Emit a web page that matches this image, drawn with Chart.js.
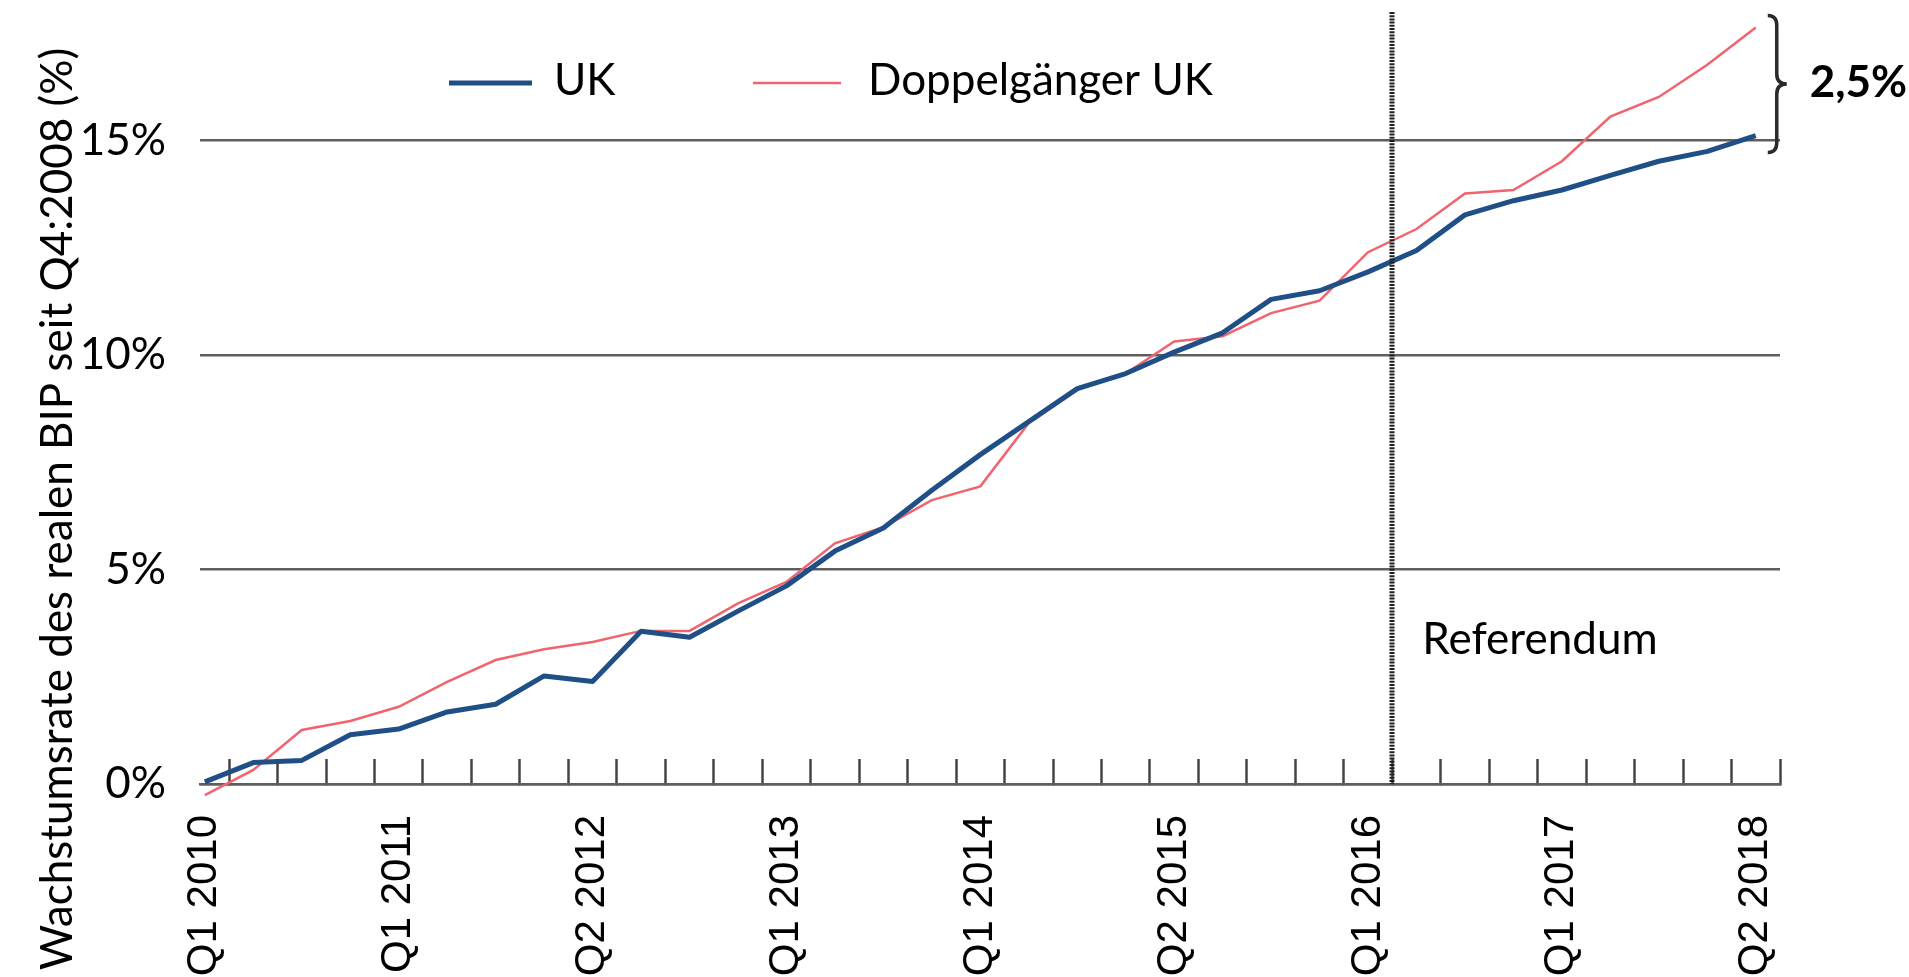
<!DOCTYPE html>
<html><head><meta charset="utf-8">
<script src="https://cdn.jsdelivr.net/npm/chart.js@4.4.1/dist/chart.umd.min.js"></script>
<style>html,body{margin:0;padding:0;background:#fff;overflow:hidden}#wrap{width:1909px;height:977px;position:relative}</style>
</head><body><div id="wrap"><canvas id="c" width="1909" height="977"></canvas></div>
<script>
// ---- data ----
const quarters = ["Q1 2010","Q2 2010","Q3 2010","Q4 2010","Q1 2011","Q2 2011","Q3 2011","Q4 2011",
  "Q1 2012","Q2 2012","Q3 2012","Q4 2012","Q1 2013","Q2 2013","Q3 2013","Q4 2013",
  "Q1 2014","Q2 2014","Q3 2014","Q4 2014","Q1 2015","Q2 2015","Q3 2015","Q4 2015",
  "Q1 2016","Q2 2016","Q3 2016","Q4 2016","Q1 2017","Q2 2017","Q3 2017","Q4 2017","Q1 2018"];
const tickLabels = ["Q1 2010","Q1 2011","Q2 2012","Q1 2013","Q1 2014","Q2 2015","Q1 2016","Q1 2017","Q2 2018"];
const ukValues = [0.05,0.50,0.55,1.15,1.28,1.68,1.86,2.52,2.39,3.56,3.42,4.03,4.62,5.43,5.97,6.85,
  7.68,8.45,9.22,9.57,10.07,10.52,11.30,11.50,11.94,12.44,13.27,13.60,13.85,14.19,14.52,14.75,15.12];
const doppelValues = [-0.26,0.33,1.26,1.47,1.80,2.38,2.89,3.14,3.31,3.57,3.57,4.21,4.71,5.61,5.99,6.62,
  6.94,8.42,9.19,9.57,10.32,10.44,10.98,11.27,12.40,12.94,13.77,13.85,14.52,15.56,16.02,16.77,17.64];
const yTickValues = [0,5,10,15];
const seriesNames = ["UK","Doppelgänger UK"];
const yTitle = "Wachstumsrate des realen BIP seit Q4:2008 (%)";
const referendumText = "Referendum";
const gapText = "2,5%";
const referendumPos = 24.5;   // boundary after Q1 2016
const labelStep = 4;

const BLUE = '#1f4f86', RED = '#f0646e', GRID = '#5e5e5e', TICK = '#444';
const CAL = 'Lato';

const annot = {
  id: 'annot',
  afterDatasetsDraw(chart) {
    const {ctx, chartArea, scales:{x, y}} = chart;
    const rx = Math.round(x.getPixelForValue(referendumPos));
    ctx.save();
    ctx.strokeStyle = '#1e1e1e';
    ctx.lineWidth = 5;
    ctx.setLineDash([2, 1.2]);
    ctx.beginPath();
    ctx.moveTo(rx, chartArea.top);
    ctx.lineTo(rx, chartArea.bottom);
    ctx.stroke();
    ctx.restore();
  },
  afterDraw(chart) {
    const {ctx, chartArea, scales:{x, y}} = chart;
    const ds = chart.data.datasets;
    ctx.save();
    ctx.fillStyle = '#000';
    // y-axis title
    ctx.save();
    ctx.font = `44px ${CAL}`;
    ctx.translate(72, 509);
    ctx.rotate(-Math.PI/2);
    ctx.textAlign = 'center';
    ctx.textBaseline = 'alphabetic';
    ctx.fillText(yTitle, 0, 0);
    ctx.restore();
    // legend
    const leg = [{x0:449, x1:532, tx:554}, {x0:753, x1:841, tx:868}];
    ctx.font = `44px ${CAL}`;
    ctx.textAlign = 'left';
    ctx.textBaseline = 'alphabetic';
    ds.forEach((d, i) => {
      ctx.strokeStyle = d.borderColor;
      ctx.lineWidth = d.borderWidth;
      ctx.beginPath();
      ctx.moveTo(leg[i].x0, 83);
      ctx.lineTo(leg[i].x1, 83);
      ctx.stroke();
      ctx.fillText(d.label, leg[i].tx, 95);
    });
    // Referendum label
    const rx = x.getPixelForValue(referendumPos);
    ctx.fillText(referendumText, rx + 30, y.getPixelForValue(3.03));
    // brace
    const last = quarters.length - 1;
    const xe = x.getPixelForValue(last);
    const top = y.getPixelForValue(doppelValues[last]) - 12;
    const bot = y.getPixelForValue(ukValues[last]) + 17;
    const mid = (top + bot) / 2;
    const xL = xe + 12, xS = xe + 21, xT = xe + 31;
    ctx.strokeStyle = '#2a2a2a';
    ctx.lineWidth = 3.5;
    ctx.beginPath();
    ctx.moveTo(xL, top);
    ctx.quadraticCurveTo(xS, top, xS, top + 10);
    ctx.lineTo(xS, mid - 10);
    ctx.quadraticCurveTo(xS, mid, xT, mid);
    ctx.quadraticCurveTo(xS, mid, xS, mid + 10);
    ctx.lineTo(xS, bot - 10);
    ctx.quadraticCurveTo(xS, bot, xL, bot);
    ctx.stroke();
    ctx.font = `bold 44px ${CAL}`;
    ctx.fillText(gapText, xT + 23, mid + 13);
    ctx.restore();
  }
};

function build() {
  new Chart(document.getElementById('c'), {
    type: 'line',
    data: {
      datasets: [
        {label: seriesNames[0], data: ukValues.map((v, i) => ({x: i, y: v})), borderColor: BLUE, borderWidth: 5,
         pointRadius: 0, tension: 0, clip: false, borderJoinStyle: 'round'},
        {label: seriesNames[1], data: doppelValues.map((v, i) => ({x: i, y: v})), borderColor: RED, borderWidth: 2.5,
         pointRadius: 0, tension: 0, clip: false}
      ]
    },
    options: {
      responsive: false, animation: false, events: [],
      layout: {padding: {left: 0, right: 129, top: 12, bottom: 0}},
      plugins: {legend: {display: false}, tooltip: {enabled: false}},
      scales: {
        x: {
          type: 'linear', min: -0.1, max: quarters.length - 0.5,
          afterBuildTicks: s => {
            const t = [];
            for (let k = 0; k < quarters.length; k++) {
              if (k % labelStep === 0) t.push({value: k});
              t.push({value: k + 0.5});
            }
            s.ticks = t;
          },
          afterFit: s => { s.height = 193; s.paddingLeft = 0; s.paddingRight = 0; },
          grid: {drawOnChartArea: false, drawTicks: true, tickLength: -25, tickWidth: 2.5,
                 tickColor: c => (c.tick && Number.isInteger(c.tick.value)) ? 'rgba(0,0,0,0)' : TICK},
          border: {display: true, color: GRID, width: 2.5},
          ticks: {autoSkip: false, minRotation: 90, maxRotation: 90, padding: 56, color: '#000',
                  font: {family: '"Liberation Sans", Arial, sans-serif', size: 42},
                  callback: v => {
                    if (!Number.isInteger(v)) return '';
                    return v % labelStep === 0 ? tickLabels[v / labelStep] : '';
                  }}
        },
        y: {
          min: 0, max: 18,
          afterBuildTicks: s => { s.ticks = yTickValues.map(v => ({value: v})); },
          afterFit: s => { s.width = 200; s.paddingTop = 0; s.paddingBottom = 0; },
          grid: {color: GRID, lineWidth: 2.5, drawTicks: false},
          border: {display: false},
          ticks: {padding: 34, color: '#000', font: {family: CAL, size: 44}, callback: v => v + '%'}
        }
      }
    },
    plugins: [annot]
  });
}
Promise.all([
  document.fonts.load('44px Lato'), document.fonts.load('bold 44px Lato'),
  document.fonts.load('42px "Liberation Sans"')
]).then(build, build);
</script></body></html>
